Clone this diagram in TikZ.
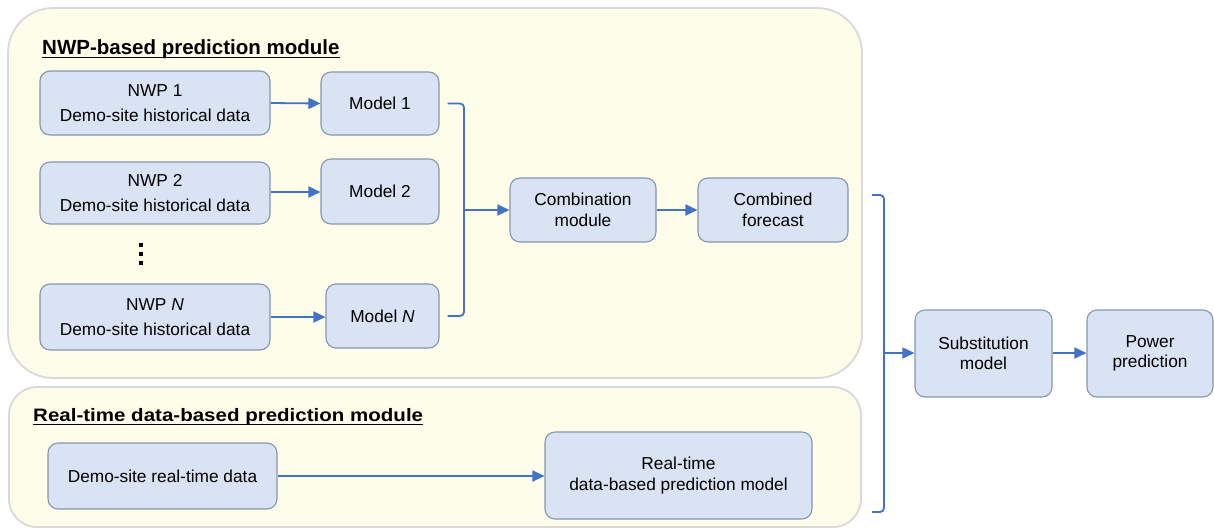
\documentclass[tikz,border=0pt]{standalone}
\usepackage{fontspec}
\setmainfont{Liberation Sans}
\usetikzlibrary{arrows.meta}
\definecolor{panelfill}{HTML}{FEFDE9}
\definecolor{paneldraw}{HTML}{D9D9D9}
\definecolor{boxfill}{HTML}{DAE3F3}
\definecolor{boxdraw}{HTML}{8496AE}
\definecolor{flow}{HTML}{4472C4}
\tikzset{
  panel/.style={fill=panelfill, draw=paneldraw, line width=1.8pt},
  box/.style={rectangle, rounded corners=10pt, fill=boxfill, draw=boxdraw, line width=1.1pt,
    align=center, inner sep=2pt, font=\fontsize{17.3}{20.5}\selectfont},
  widebox/.style={box, font=\fontsize{17.3}{25}\selectfont},
  flowline/.style={draw=flow, line width=1.8pt},
  arrow/.style={flowline, -{Triangle[length=12pt,width=11pt]}},
  title/.style={anchor=base west, inner sep=0pt, font=\fontsize{20.5}{24}\selectfont\bfseries},
}
\begin{document}
\begin{tikzpicture}[x=1pt,y=-1pt]
\useasboundingbox (0,0) rectangle (1214,528);
% panels
\draw[panel, rounded corners=45pt] (8,8) rectangle (862,378);
\draw[panel, rounded corners=28pt] (9,387) rectangle (861,527);
% titles
\node[title] (t1) at (42,54) {NWP-based prediction module};
\draw[line width=1.6pt] ([yshift=-3.5pt]t1.base west) -- ([yshift=-3.5pt]t1.base east);
\node[title, font=\fontsize{18}{22}\selectfont\bfseries] (t2) at (33,421) {\scalebox{1.14}[1]{Real-time data-based prediction module}};
\draw[line width=1.6pt] ([yshift=-3.5pt]t2.base west) -- ([yshift=-3.5pt]t2.base east);
% boxes
\node[widebox, minimum width=230pt, minimum height=64pt] (nwp1) at (155,103) {NWP 1\\Demo-site historical data};
\node[widebox, minimum width=230pt, minimum height=62pt] (nwp2) at (155,193) {NWP 2\\Demo-site historical data};
\node[widebox, minimum width=230pt, minimum height=66pt] (nwpn) at (155,317) {NWP \textit{N}\\Demo-site historical data};
\node[box, minimum width=118pt, minimum height=63pt] (m1) at (380,103.5) {Model 1};
\node[box, minimum width=118pt, minimum height=65pt] (m2) at (380,191.5) {Model 2};
\node[box, minimum width=113pt, minimum height=64pt] (mn) at (382.5,316) {Model \textit{N}};
\node[box, minimum width=146pt, minimum height=64pt] (comb) at (583,210) {Combination\\module};
\node[box, minimum width=150pt, minimum height=64pt] (cf) at (773,210) {Combined\\forecast};
\node[box, minimum width=137pt, minimum height=87pt] (sub) at (983.5,353.5) {Substitution\\model};
\node[box, minimum width=126pt, minimum height=87pt] (pow) at (1150,353.5) {Power\\prediction};
\node[box, minimum width=229pt, minimum height=66pt] (demo) at (162.5,476) {Demo-site real-time data};
\node[box, minimum width=267pt, minimum height=87pt] (rt) at (678.5,475.5) {Real-time\\data-based prediction model};
% vertical dots
\foreach \yy in {245,254,263} \fill (139,\yy-2) rectangle (143,\yy+2);
% arrows
\draw[arrow] (nwp1.east) -- (m1.west);
\draw[arrow] (nwp2.east |- 0,192) -- (m2.west |- 0,192);
\draw[arrow] (nwpn.east) -- (mn.west |- nwpn.east);
\coordinate (br1) at (464,210);
\draw[flowline, rounded corners=4pt] ([xshift=8pt]m1.east) -| (br1) |- ([xshift=8pt]mn.east);
\draw[arrow] (br1) -- (comb.west);
\draw[arrow] (comb.east) -- (cf.west);
\coordinate (br2t) at (872,195);
\coordinate (br2) at (884,353);
\coordinate (br2b) at (872,512);
\draw[flowline, rounded corners=4pt] (br2t) -| (br2) |- (br2b);
\draw[arrow] (br2) -- (sub.west |- br2);
\draw[arrow] (sub.east |- br2) -- (pow.west |- br2);
\draw[arrow] (demo.east) -- (rt.west |- demo.east);
\end{tikzpicture}
\end{document}
